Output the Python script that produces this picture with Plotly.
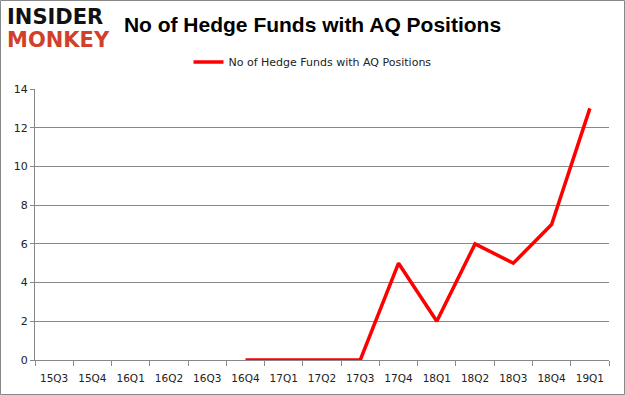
import plotly.graph_objects as go

categories = ["15Q3", "15Q4", "16Q1", "16Q2", "16Q3", "16Q4", "17Q1", "17Q2",
              "17Q3", "17Q4", "18Q1", "18Q2", "18Q3", "18Q4", "19Q1"]
hedge_funds = [None, None, None, None, None, 0, 0, 0, 0, 5, 2, 6, 5, 7, 13]
y_ticks = [0, 2, 4, 6, 8, 10, 12, 14]
series_name = "No of Hedge Funds with AQ Positions"

W, H = 625, 395
ml, mr, mt, mb = 35, 16, 89, 35
pw, ph = W - ml - mr, H - mt - mb

fig = go.Figure()
fig.add_trace(go.Scatter(
    x=categories, y=hedge_funds, mode="lines", name=series_name,
    line=dict(color="#ff0000", width=3.5), connectgaps=False,
))

def px_x(p):
    return (p - ml) / pw

def px_y(p):
    return (H - mb - p) / ph

fig.update_layout(
    width=W, height=H,
    margin=dict(l=ml, r=mr, t=mt, b=mb, autoexpand=False),
    paper_bgcolor="white", plot_bgcolor="white",
    font=dict(family="DejaVu Sans, Arial", size=11, color="#222"),
    showlegend=True,
    legend=dict(orientation="h", x=0.5, xanchor="center", xref="container",
                y=1 - 62 / H, yanchor="middle", yref="container",
                font=dict(size=11, color="#222"), bgcolor="rgba(0,0,0,0)",
                itemwidth=30),
    title=dict(text="<b>No of Hedge Funds with AQ Positions</b>", x=0.5, xanchor="center",
               y=1 - 25 / H, yanchor="middle",
               font=dict(family="Liberation Sans, Arial", size=21, color="#000")),
    xaxis=dict(type="category", showgrid=False, showline=True, linecolor="#888",
               linewidth=1, ticks="outside", tickson="boundaries", ticklen=5,
               tickcolor="#888", tickangle=0, ticklabelstandoff=8,
               tickfont=dict(size=10.5, color="#222"),
               range=[-0.5, len(categories) - 0.5], fixedrange=True),
    yaxis=dict(range=[0, 14], tickvals=y_ticks, showgrid=True, gridcolor="#888",
               gridwidth=1, showline=True, linecolor="#888", linewidth=1,
               ticks="outside", ticklen=4, tickcolor="#888", zeroline=False,
               tickfont=dict(size=11, color="#222"), fixedrange=True),
)

fig.add_annotation(text="<b>INSIDER</b>", xref="paper", yref="paper",
                   x=px_x(5), y=px_y(17), xanchor="left", yanchor="middle",
                   showarrow=False,
                   font=dict(family="DejaVu Sans, Arial", size=21, color="#111"))
fig.add_annotation(text="<b>MONKEY</b>", xref="paper", yref="paper",
                   x=px_x(5), y=px_y(40), xanchor="left", yanchor="middle",
                   showarrow=False,
                   font=dict(family="DejaVu Sans, Arial", size=21, color="#d23f2a"))

fig.add_shape(type="rect", xref="paper", yref="paper",
              x0=px_x(0.5), x1=px_x(W - 0.5), y0=px_y(H - 0.5), y1=px_y(0.5),
              line=dict(color="#888", width=1), layer="below")

fig.write_html("out.html", config={"displayModeBar": False},
               post_script="document.body.style.margin='0';")
